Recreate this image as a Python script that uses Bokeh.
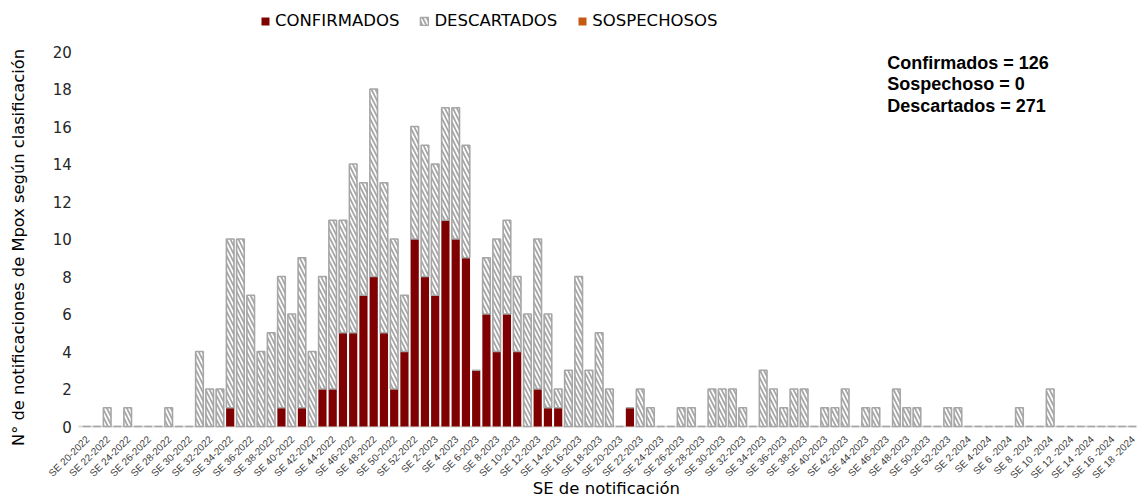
import pandas as pd
from math import pi
from bokeh.plotting import figure
from bokeh.models import (Range1d, Legend, LegendItem, Label, ColumnDataSource)
from bokeh.core.properties import value
from bokeh.embed import file_html
from bokeh.resources import INLINE

# ---- data -------------------------------------------------------------
weeks_2022 = list(range(20, 53))
weeks_2023 = list(range(1, 53))
weeks_2024 = list(range(1, 19))

confirmados_2022 = [0, 0, 0, 0, 0, 0, 0, 0, 0, 0, 0, 0, 0, 0, 1, 0, 0, 0, 0, 1,
                    0, 1, 0, 2, 2, 5, 5, 7, 8, 5, 2, 4, 10]
descartados_2022 = [0, 0, 1, 0, 1, 0, 0, 0, 1, 0, 0, 4, 2, 2, 9, 10, 7, 4, 5, 7,
                    6, 8, 4, 6, 9, 6, 9, 6, 10, 8, 8, 3, 6]

confirmados_2023 = [8, 7, 11, 10, 9, 3, 6, 4, 6, 4, 0, 2, 1, 1, 0, 0, 0, 0, 0, 0,
                    1, 0, 0, 0, 0, 0, 0, 0, 0, 0, 0, 0, 0, 0, 0, 0, 0, 0, 0, 0,
                    0, 0, 0, 0, 0, 0, 0, 0, 0, 0, 0, 0]
descartados_2023 = [7, 7, 6, 7, 6, 0, 3, 6, 5, 4, 6, 8, 5, 1, 3, 8, 3, 5, 2, 0,
                    0, 2, 1, 0, 0, 1, 1, 0, 2, 2, 2, 1, 0, 3, 2, 1, 2, 2, 0, 1,
                    1, 2, 0, 1, 1, 0, 2, 1, 1, 0, 0, 1]

confirmados_2024 = [0] * 18
descartados_2024 = [1, 0, 0, 0, 0, 0, 1, 0, 0, 2, 0, 0, 0, 0, 0, 0, 0, 0]

sospechosos_total = 0

y_ticks = [0, 2, 4, 6, 8, 10, 12, 14, 16, 18, 20]

tick_labels = (
    ["SE 20-2022", "SE 22-2022", "SE 24-2022", "SE 26-2022", "SE 28-2022",
     "SE 30-2022", "SE 32-2022", "SE 34-2022", "SE 36-2022", "SE 38-2022",
     "SE 40-2022", "SE 42-2022", "SE 44-2022", "SE 46-2022", "SE 48-2022",
     "SE 50-2022", "SE 52-2022"]
    + ["SE 2-2023", "SE 4-2023", "SE 6-2023", "SE 8-2023", "SE 10-2023",
       "SE 12-2023", "SE 14-2023", "SE 16-2023", "SE 18-2023", "SE 20-2023",
       "SE 22-2023", "SE 24-2023", "SE 26-2023", "SE 28-2023", "SE 30-2023",
       "SE 32-2023", "SE 34-2023", "SE 36-2023", "SE 38-2023", "SE 40-2023",
       "SE 42-2023", "SE 44-2023", "SE 46-2023", "SE 48-2023", "SE 50-2023",
       "SE 52-2023"]
    + ["SE 2-2024", "SE 4-2024", "SE 6 -2024", "SE 8 -2024", "SE 10 -2024",
       "SE 12 -2024", "SE 14 -2024", "SE 16 -2024", "SE 18 -2024"]
)

week_names = ([f"SE {w}-2022" for w in weeks_2022] +
              [f"SE {w}-2023" for w in weeks_2023] +
              [f"SE {w}-2024" for w in weeks_2024])

conf = confirmados_2022 + confirmados_2023 + confirmados_2024
desc = descartados_2022 + descartados_2023 + descartados_2024
sosp = [0] * len(conf)

df = pd.DataFrame({"week": week_names, "conf": conf, "desc": desc, "sosp": sosp})
df["x"] = range(len(df))
df["zero"] = 0
df["d_bottom"] = df["conf"]
df["d_top"] = df["conf"] + df["desc"]
df["s_bottom"] = df["d_top"]
df["s_top"] = df["d_top"] + df["sosp"]
src = ColumnDataSource(df)

tick_pos = list(range(0, len(df), 2))
tick_src = ColumnDataSource(dict(x=tick_pos, y=[0] * len(tick_pos), text=tick_labels))

tot_conf = int(df["conf"].sum())
tot_desc = int(df["desc"].sum())

# ---- figure -----------------------------------------------------------
FONT = "DejaVu Sans"
X0 = -0.8                      # left edge of the plotting area (category units)
X1 = len(df) - 0.48            # right edge
YLAB_X = -1.45                 # right edge of the value labels
ytick_src = ColumnDataSource(dict(x=[YLAB_X] * len(y_ticks), y=y_ticks,
                                  text=[str(v) for v in y_ticks]))

p = figure(width=1137, height=498, output_backend="svg", toolbar_location=None,
           x_range=Range1d(-8.41, X1), y_range=Range1d(-3.84, 22.72),
           min_border_left=0, min_border_right=0, min_border_top=0,
           min_border_bottom=0)
p.outline_line_color = None
p.xgrid.grid_line_color = None
p.ygrid.grid_line_color = None
p.axis.visible = False
p.background_fill_color = "white"

# baseline (category axis line)
p.segment(x0=[X0], y0=[0], x1=[X1], y1=[0], line_color="#d9d9d9", line_width=2)

BW = 0.8
r_conf = p.vbar(x="x", bottom="zero", top="conf", width=BW, source=src,
                fill_color="#7f0000", line_color=None)
r_desc = p.vbar(x="x", bottom="d_bottom", top="d_top", width=BW * 0.93, source=src,
                fill_color="white", line_color="#a6a6a6", line_width=1.6,
                hatch_pattern="\\", hatch_color="#a6a6a6", hatch_scale=8,
                hatch_weight=1.8)
r_sosp = p.vbar(x="x", bottom="s_bottom", top="s_top", width=BW, source=src,
                fill_color="#c55a11", line_color=None)

# x tick labels (rotated) and x title
p.text(x="x", y="y", text="text", source=tick_src, angle=pi / 4,
       x_offset=1, y_offset=11,
       text_align="right", text_baseline="middle",
       text_font=value("Liberation Sans"), text_font_size="10px",
       text_color="#404040")
p.text(x=[50.7], y=[-3.3], text=["SE de notificación"], text_align="center",
       text_baseline="middle", text_font=value(FONT), text_font_size="16.5px",
       text_color="#000000")

# y tick labels and y title
p.text(x="x", y="y", text="text", source=ytick_src,
       text_align="right", text_baseline="middle",
       text_font=value(FONT), text_font_size="15px", text_color="#262626")
p.text(x=[-6.65], y=[9.55], text=["N° de notificaciones de Mpox según clasificación"],
       angle=pi / 2, text_align="center", text_baseline="middle",
       text_font=value(FONT), text_font_size="16.3px", text_color="#000000")

# legend
legend = Legend(items=[LegendItem(label="CONFIRMADOS", renderers=[r_conf]),
                       LegendItem(label="DESCARTADOS", renderers=[r_desc]),
                       LegendItem(label="SOSPECHOSOS", renderers=[r_sosp])],
                orientation="horizontal", location=(260, 468),
                label_text_font=FONT, label_text_font_size="16.5px",
                label_text_color="#000000",
                glyph_width=10, glyph_height=10, label_standoff=5, spacing=20,
                padding=0, margin=0, border_line_color=None,
                background_fill_alpha=0)
p.add_layout(legend)

# summary text
summary = [f"Confirmados = {tot_conf}", f"Sospechoso = {sospechosos_total}",
           f"Descartados = {tot_desc}"]
for k, txt in enumerate(summary):
    p.add_layout(Label(x=78.1, y=19.41 - k * 1.15, text=txt,
                       text_font="Liberation Sans", text_font_style="bold",
                       text_font_size="18px", text_color="#000000",
                       text_baseline="middle"))

open("out.html", "w").write(file_html(p, INLINE))
